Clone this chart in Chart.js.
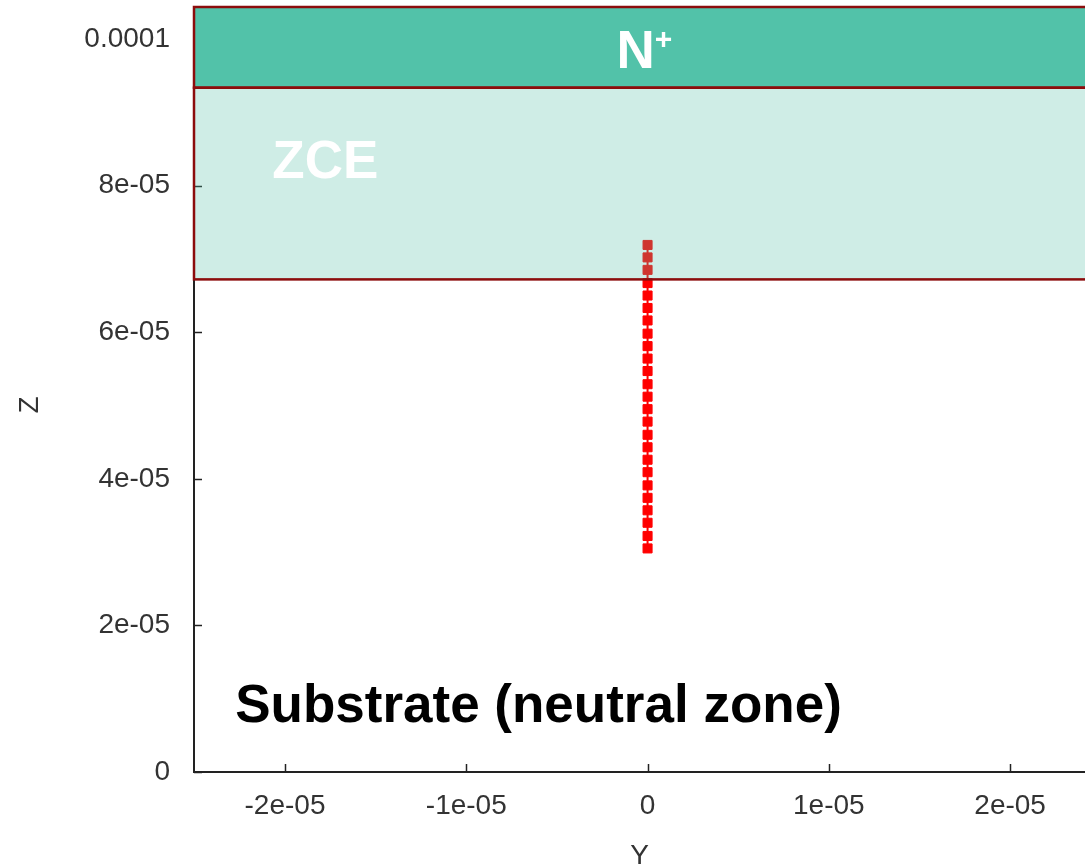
<!DOCTYPE html>
<html>
<head>
<meta charset="utf-8">
<script src="https://cdn.jsdelivr.net/npm/chart.js@4.4.1/dist/chart.umd.min.js"></script>
<style>
html,body{margin:0;padding:0;background:#fff;overflow:hidden;}
canvas{display:block;}
</style>
</head>
<body>
<canvas id="c" width="1085" height="865"></canvas>
<script>
// ---- data ----
const pathY = [0,0,0,0,0,0,0,0,0,0,0,0,0,0,0,0,0,0,0,0,0,0,0,0,0];
const pathZ = [3.05e-5,3.22e-5,3.40e-5,3.57e-5,3.74e-5,3.91e-5,4.09e-5,4.26e-5,4.43e-5,4.60e-5,
               4.78e-5,4.95e-5,5.12e-5,5.29e-5,5.47e-5,5.64e-5,5.81e-5,5.98e-5,6.16e-5,6.33e-5,
               6.50e-5,6.67e-5,6.85e-5,7.02e-5,7.19e-5];
const xTickValues = [-2e-5,-1e-5,0,1e-5,2e-5];
const xTickLabels = ["-2e-05","-1e-05","0","1e-05","2e-05"];
const yTickValues = [0,2e-5,4e-5,6e-5,8e-5,1e-4];
const yTickLabels = ["0","2e-05","4e-05","6e-05","8e-05","0.0001"];
const xRange = [-2.502e-5, 2.413e-5];
const zRange = [0, 1.0436e-4];
const nPlusZone = [9.335e-5, 1.0436e-4];   // z bottom, z top
const zceZone = [6.72e-5, 9.335e-5];
const labelNplus = {x: -0.17e-6, z: 9.60e-5};
const labelZCE = {x: -2.07e-5, z: 8.10e-5};
const labelSub = {x: -2.275e-5, z: 6.8e-6};

const overlayPlugin = {
  id: 'overlay',
  beforeDatasetsDraw(chart) {
    const {ctx, chartArea: a, scales: {x, y}} = chart;
    ctx.save();
    ctx.strokeStyle = '#222';
    ctx.lineWidth = 1.5;
    xTickValues.forEach(v => {
      const px = Math.round(x.getPixelForValue(v)) + 0.5;
      ctx.beginPath(); ctx.moveTo(px, a.bottom); ctx.lineTo(px, a.bottom - 8); ctx.stroke();
    });
    yTickValues.forEach(v => {
      const py = Math.round(y.getPixelForValue(v)) + 0.5;
      ctx.beginPath(); ctx.moveTo(a.left, py); ctx.lineTo(a.left + 8, py); ctx.stroke();
    });
    ctx.restore();
  },
  afterDatasetsDraw(chart) {
    const {ctx, chartArea: a, scales: {x, y}} = chart;
    const L = x.getPixelForValue(xRange[0]);
    const R = a.right + 20;
    ctx.save();
    const zt = y.getPixelForValue(zceZone[1]), zb = y.getPixelForValue(zceZone[0]);
    ctx.fillStyle = 'rgba(84,190,166,0.28)';
    ctx.fillRect(L, zt, R - L, zb - zt);
    const nt = y.getPixelForValue(nPlusZone[1]), nb = y.getPixelForValue(nPlusZone[0]);
    ctx.fillStyle = '#52C2A9';
    ctx.fillRect(L, nt, R - L, nb - nt);
    ctx.strokeStyle = '#8C0C0C';
    ctx.lineWidth = 2.5;
    ctx.strokeRect(L, zt, R - L, zb - zt);
    ctx.strokeRect(L, nt, R - L, nb - nt);
    ctx.fillStyle = '#ffffff';
    ctx.textBaseline = 'alphabetic';
    ctx.font = 'bold 53px "Liberation Sans", Arial, sans-serif';
    const wN = ctx.measureText('N').width;
    ctx.font = 'bold 30px "Liberation Sans", Arial, sans-serif';
    const wP = ctx.measureText('+').width;
    const cx = x.getPixelForValue(labelNplus.x);
    const by = y.getPixelForValue(labelNplus.z);
    const startX = cx - (wN + wP) / 2;
    ctx.textAlign = 'left';
    ctx.font = 'bold 53px "Liberation Sans", Arial, sans-serif';
    ctx.fillText('N', startX, by);
    ctx.font = 'bold 30px "Liberation Sans", Arial, sans-serif';
    ctx.fillText('+', startX + wN, by - 19);
    ctx.font = 'bold 53px "Liberation Sans", Arial, sans-serif';
    ctx.fillText('ZCE', x.getPixelForValue(labelZCE.x), y.getPixelForValue(labelZCE.z));
    ctx.fillStyle = '#000000';
    ctx.fillText('Substrate (neutral zone)', x.getPixelForValue(labelSub.x), y.getPixelForValue(labelSub.z));
    ctx.restore();
  }
};

const tickFont = {family: '"Liberation Sans", Arial, sans-serif', size: 28};
new Chart(document.getElementById('c'), {
  type: 'scatter',
  data: {
    datasets: [{
      data: pathY.map((v, i) => ({x: v, y: pathZ[i]})),
      showLine: true,
      borderColor: '#ff0000',
      borderWidth: 2,
      backgroundColor: '#ff0000',
      pointStyle: 'rect',
      pointRadius: 6.4,
      pointBorderWidth: 1,
      pointBorderColor: '#ff0000',
      pointBackgroundColor: '#ff0000'
    }]
  },
  options: {
    responsive: false,
    animation: false,
    devicePixelRatio: 1,
    layout: {autoPadding: false, padding: {top: 7, right: 0, left: 0, bottom: 0}},
    plugins: {legend: {display: false}, tooltip: {enabled: false}},
    scales: {
      x: {
        type: 'linear',
        min: xRange[0], max: xRange[1],
        afterBuildTicks(s) { s.ticks = xTickValues.map(v => ({value: v})); },
        afterFit(s) { s.height = 93; s.paddingLeft = 0; s.paddingRight = 0; },
        ticks: {
          color: '#333', font: tickFont, padding: 17, maxRotation: 0, autoSkip: false,
          callback: (v, i) => xTickLabels[i]
        },
        grid: {display: true, drawOnChartArea: false, drawTicks: false},
        border: {display: true, color: '#222', width: 2},
        title: {display: true, text: 'Y', color: '#333', font: {family: '"Liberation Sans", Arial, sans-serif', size: 28, lineHeight: 1}, padding: {top: 0, bottom: -5}}
      },
      y: {
        type: 'linear',
        min: zRange[0], max: zRange[1],
        afterBuildTicks(s) { s.ticks = yTickValues.map(v => ({value: v})); },
        afterFit(s) { s.width = 194; s.paddingTop = 0; s.paddingBottom = 0; },
        ticks: {
          color: '#333', font: tickFont, padding: 24, autoSkip: false,
          callback: (v, i) => yTickLabels[i]
        },
        grid: {display: true, drawOnChartArea: false, drawTicks: false},
        border: {display: true, color: '#222', width: 2},
        title: {display: true, text: 'Z    ', color: '#333', font: {family: '"Liberation Sans", Arial, sans-serif', size: 28, lineHeight: 1}, padding: {top: 16, bottom: 0}}
      }
    }
  },
  plugins: [overlayPlugin]
});
</script>
</body>
</html>
